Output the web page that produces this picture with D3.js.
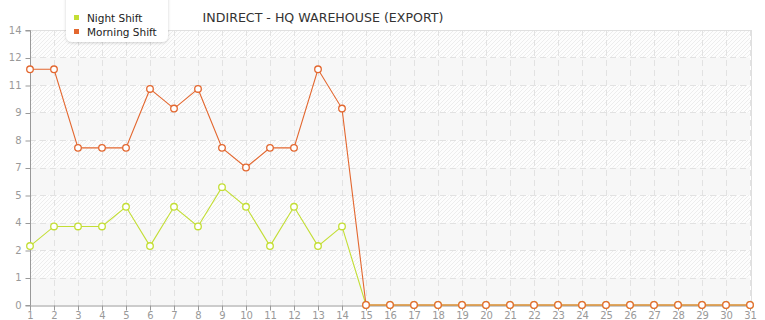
<!DOCTYPE html>
<html><head><meta charset="utf-8">
<script src="https://cdn.jsdelivr.net/npm/d3@7"></script>
<style>body{margin:0;background:#fff;}svg{display:block;font-family:"DejaVu Sans",Verdana,sans-serif;}</style>
</head><body><svg id="c" width="765" height="320"></svg>
<script>
const days = d3.range(1, 32);
const nightShift = [3,4,4,4,5,3,5,4,6,5,3,5,3,4,0,0,0,0,0,0,0,0,0,0,0,0,0,0,0,0,0];
const morningShift = [12,12,8,8,8,11,10,11,8,7,8,8,12,10,0,0,0,0,0,0,0,0,0,0,0,0,0,0,0,0,0];
const yTicks = [0,1.4,2.8,4.2,5.6,7,8.4,9.8,11.2,12.6,14];
const seriesNames = ["Night Shift","Morning Shift"];
const colors = ["#c3de35","#e3672f"];
const title = "INDIRECT - HQ WAREHOUSE (EXPORT)";

const svg = d3.select("#c");
const L=30,R=750,T=30,B=305;
const x = d3.scaleLinear().domain([1,31]).range([L,R]);
const y = d3.scaleLinear().domain([0,14]).range([B,T]);

const defs = svg.append("defs");
const pat = defs.append("pattern").attr("id","hatch").attr("patternUnits","userSpaceOnUse")
  .attr("width",4).attr("height",4);
pat.append("rect").attr("width",4).attr("height",4).attr("fill","#fdfdfd");
pat.append("path").attr("d","M-1,1 L1,-1 M0,4 L4,0 M3,5 L5,3").attr("stroke","#ededed").attr("stroke-width",1);
const sh = defs.append("filter").attr("id","sh").attr("x","-20%").attr("y","-20%").attr("width","140%").attr("height","160%");
sh.append("feDropShadow").attr("dx",0).attr("dy",1).attr("stdDeviation",1.5).attr("flood-color","#000").attr("flood-opacity",0.18);

// bands
for(let i=0;i<yTicks.length-1;i++){
  const lo=yTicks[i], hi=yTicks[i+1];
  const fromTop = yTicks.length-2-i;
  svg.append("rect").attr("x",L).attr("width",R-L)
    .attr("y",y(hi)).attr("height",y(lo)-y(hi))
    .attr("fill", fromTop%2===0 ? "url(#hatch)" : "#f7f7f7");
}
// grid
const g = svg.append("g");
g.selectAll(".vg").data(days.slice(1)).join("line")
  .attr("x1",d=>x(d)+0.5).attr("x2",d=>x(d)+0.5).attr("y1",T).attr("y2",B)
  .attr("stroke","#e2e2e2").attr("stroke-dasharray","6,4");
g.selectAll(".hg").data(yTicks.slice(1,-1)).join("line")
  .attr("y1",d=>Math.round(y(d))+0.5).attr("y2",d=>Math.round(y(d))+0.5).attr("x1",L).attr("x2",R)
  .attr("stroke","#e2e2e2").attr("stroke-dasharray","6,4");
// top/right border
svg.append("line").attr("x1",L).attr("x2",R+1).attr("y1",T+0.5).attr("y2",T+0.5).attr("stroke","#e0e0e0");
svg.append("line").attr("x1",R+1.5).attr("x2",R+1.5).attr("y1",T).attr("y2",B).attr("stroke","#e0e0e0");

// axes
const yAxis = d3.axisLeft(y).tickValues(yTicks).tickFormat(d=>Math.floor(d+1e-9)).tickSize(5).tickPadding(4);
const ya = svg.append("g").attr("transform",`translate(${L+0.5},0)`).call(yAxis);
const xAxis = d3.axisBottom(x).tickValues(days).tickFormat(d=>d).tickSize(5).tickPadding(1);
const xa = svg.append("g").attr("transform",`translate(0,${B+0.5})`).call(xAxis);
[ya,xa].forEach(a=>{
  a.select(".domain").attr("stroke","#999");
  a.selectAll(".tick line").attr("stroke","#999");
  a.selectAll(".tick text").attr("fill","#999").attr("font-size","10px").attr("font-family","DejaVu Sans");
});
ya.selectAll(".tick line").attr("transform","translate(0,0.5)");
ya.select(".domain").attr("d",`M-5,${T+0.5}H0V${B+0.5}H-5`);

// series
const data = [nightShift, morningShift];
data.forEach((vals,si)=>{
  const pts = vals.map((v,i)=>[days[i],v]);
  svg.append("path").datum(pts)
    .attr("d",d3.line().x(d=>x(d[0])).y(d=>y(d[1])))
    .attr("fill","none").attr("stroke",colors[si]).attr("stroke-width",1.1);
  svg.append("g").selectAll("circle").data(pts).join("circle")
    .attr("cx",d=>x(d[0])).attr("cy",d=>y(d[1])).attr("r",3.3)
    .attr("fill","#fff").attr("stroke",colors[si]).attr("stroke-width",1.3);
});

// legend
const lg = svg.append("g");
lg.append("rect").attr("x",66).attr("y",-8).attr("width",102).attr("height",50).attr("rx",6)
  .attr("fill","#fff").attr("filter","url(#sh)");
seriesNames.forEach((n,i)=>{
  lg.append("rect").attr("x",74).attr("y",15+i*14).attr("width",5).attr("height",5).attr("fill",colors[i]);
  lg.append("text").attr("x",87).attr("y",21.5+i*14).attr("font-size","10.5px").attr("fill","#222").text(n);
});
// title
svg.append("text").attr("x",323).attr("y",22).attr("text-anchor","middle")
  .attr("font-size","12.6px").attr("fill","#333").text(title);
</script></body></html>
